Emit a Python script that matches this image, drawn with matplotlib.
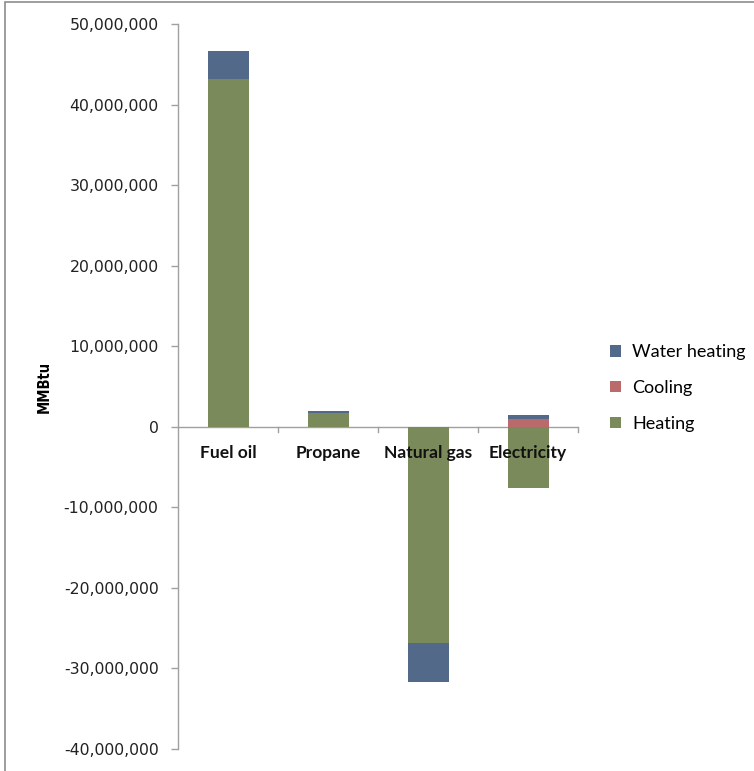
import matplotlib
matplotlib.use("Agg")
import matplotlib.pyplot as plt
from matplotlib.ticker import FuncFormatter, MultipleLocator
from matplotlib.patches import Rectangle

categories = ["Fuel oil", "Propane", "Natural gas", "Electricity"]
heating = [43_200_000, 1_750_000, -26_800_000, -7_600_000]
cooling = [0, 0, 0, 960_000]
water_heating = [3_400_000, 150_000, -4_900_000, 530_000]

c_water = "#53698A"
c_cool = "#BA6A6A"
c_heat = "#7B8A5A"

W, H = 754, 771
fig = plt.figure(figsize=(W / 100, H / 100), dpi=100)
ax = fig.add_axes([178 / W, 1 - 749 / H, 400 / W, 725 / H])

x = list(range(len(categories)))
bw = 0.41

# stacking: positive values stack upward from 0, negative downward
pos_base = [0.0] * 4
neg_base = [0.0] * 4

def stack(vals, color, label):
    bottoms = []
    for i, v in enumerate(vals):
        if v >= 0:
            bottoms.append(pos_base[i])
            pos_base[i] += v
        else:
            bottoms.append(neg_base[i])
            neg_base[i] += v
    return ax.bar(x, vals, bw, bottom=bottoms, color=color, label=label,
                  edgecolor="none", zorder=3)

h_heat = stack(heating, c_heat, "Heating")
h_cool = stack(cooling, c_cool, "Cooling")
h_water = stack(water_heating, c_water, "Water heating")

ax.set_xlim(-0.5, 3.5)
ax.set_ylim(-40_000_000, 50_000_000)
ax.yaxis.set_major_locator(MultipleLocator(10_000_000))
ax.yaxis.set_major_formatter(FuncFormatter(lambda v, p: f"{int(round(v)):,}"))
ax.tick_params(axis="y", direction="out", length=5, width=1, color="#A0A0A0",
               labelsize=11.3, labelcolor="#222222", pad=9)
for lab in ax.get_yticklabels():
    lab.set_family("DejaVu Sans")
for spine in ["top", "right", "bottom"]:
    ax.spines[spine].set_visible(False)
ax.spines["left"].set_color("#A0A0A0")
ax.spines["left"].set_linewidth(1)

# x axis at zero
ax.axhline(0, color="#A0A0A0", lw=1, zorder=2)
ax.set_xticks([])
for b in [0.5, 1.5, 2.5, 3.5]:
    ax.plot([b, b], [0, -700_000], color="#A0A0A0", lw=1, zorder=2, clip_on=False)
for i, c in enumerate(categories):
    ax.text(i, -2_300_000, c, ha="center", va="top", fontsize=12.5,
            fontweight="bold", family="Lato", color="#111111", zorder=4)

ax.set_ylabel("MMBtu", fontsize=10.5, fontweight="bold", family="DejaVu Sans",
              fontstretch="condensed")
ax.yaxis.set_label_coords(-0.315, 0.5)

leg = fig.legend([h_water, h_cool, h_heat], ["Water heating", "Cooling", "Heating"],
                 loc="center left", bbox_to_anchor=(594 / W, 1 - 388 / H),
                 frameon=False, prop={"family": "Lato", "size": 13},
                 handlelength=0.6, handleheight=0.6, handletextpad=0.6,
                 labelspacing=1.1)

fig.patches.append(Rectangle((5 / W, -0.01), 1.0, 1 - 2 / H + 0.01,
                             transform=fig.transFigure, fill=False,
                             edgecolor="#8C8C8C", lw=1.2))

fig.savefig("out.png", dpi=100)
